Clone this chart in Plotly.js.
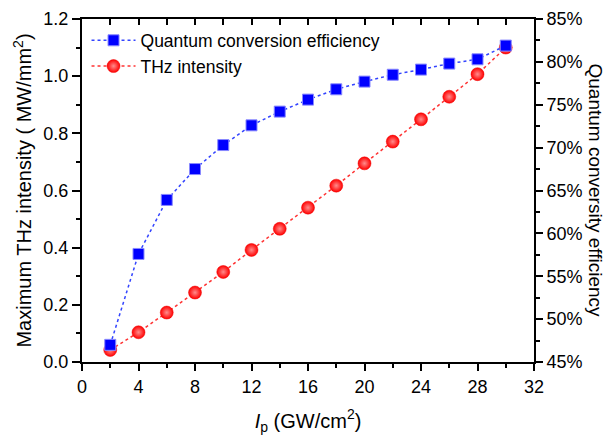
<!DOCTYPE html>
<html>
<head>
<meta charset="utf-8">
<script src="https://cdn.plot.ly/plotly-3.0.1.min.js"></script>
<style>html,body{margin:0;padding:0;background:#fff;}#chart{width:611px;height:439px;}</style>
</head>
<body>
<div id="chart"></div>
<script>
// Pump intensity Ip (GW/cm^2)
const intensity = [2, 4, 6, 8, 10, 12, 14, 16, 18, 20, 22, 24, 26, 28, 30];
// Quantum conversion efficiency (%)
const efficiency = [47.0, 57.6, 63.9, 67.5, 70.3, 72.6, 74.2, 75.6, 76.8, 77.7, 78.5, 79.1, 79.8, 80.3, 81.9];
// Maximum THz intensity (MW/mm^2)
const thz = [0.042, 0.104, 0.173, 0.243, 0.315, 0.392, 0.466, 0.540, 0.617, 0.695, 0.771, 0.849, 0.928, 1.007, 1.100];

const FONT = 'Liberation Sans, Arial, sans-serif';

const traces = [
  {
    x: intensity, y: efficiency, yaxis: 'y2', xaxis: 'x',
    name: 'Quantum conversion efficiency',
    mode: 'lines+markers',
    line: {color: '#3344ff', width: 1.5, dash: 'dot'},
    marker: {symbol: 'square', size: 11, color: '#0000ff', line: {color: '#8888ff', width: 1}}
  },
  {
    x: intensity, y: thz, yaxis: 'y', xaxis: 'x',
    name: 'THz intensity',
    mode: 'lines+markers',
    line: {color: '#ff3333', width: 1.5, dash: 'dot'},
    marker: {symbol: 'circle', size: 13, color: '#ff0000', line: {color: '#ee0000', width: 0.5},
             gradient: {type: 'radial', color: '#ff8c8c'}}
  }
];

const axisCommon = {
  showline: true, linecolor: '#000', linewidth: 2,
  ticks: 'outside', tickcolor: '#000', tickwidth: 2,
  showgrid: false, zeroline: false,
  tickfont: {family: FONT, size: 18, color: '#000'}
};

const layout = {
  width: 611, height: 439,
  margin: {l: 82, r: 77, t: 19, b: 77},
  paper_bgcolor: '#fff', plot_bgcolor: '#fff',
  font: {family: FONT, color: '#000'},
  showlegend: true,
  legend: {x: 0.01, y: 0.99, xanchor: 'left', yanchor: 'top', bgcolor: 'rgba(0,0,0,0)',
           font: {family: FONT, size: 17.5, color: '#000'}, tracegroupgap: 0, itemwidth: 44},
  xaxis: Object.assign({}, axisCommon, {
    range: [0, 32], dtick: 4, tick0: 0, ticklen: 7,
    minor: {dtick: 2, ticklen: 4, ticks: 'outside', tickcolor: '#000', tickwidth: 2},
    title: {text: '<i>I</i><sub>p</sub> (GW/cm<sup>2</sup>)', font: {family: FONT, size: 20, color: '#000'}, standoff: 18}
  }),
  xaxis2: {
    overlaying: 'x', side: 'top', range: [0, 32], dtick: 2, tick0: 0,
    showline: true, linecolor: '#000', linewidth: 2,
    ticks: 'inside', ticklen: 6, tickwidth: 2, tickcolor: '#000',
    showticklabels: false, showgrid: false, zeroline: false
  },
  yaxis: Object.assign({}, axisCommon, {
    range: [0, 1.2], dtick: 0.2, tick0: 0, ticklen: 8, tickformat: '.1f',
    minor: {dtick: 0.1, ticklen: 4, ticks: 'outside', tickcolor: '#000', tickwidth: 2},
    title: {text: 'Maximum THz intensity ( MW/mm<sup>2</sup>)', font: {family: FONT, size: 20, color: '#000'}, standoff: 6}
  }),
  yaxis2: Object.assign({}, axisCommon, {
    overlaying: 'y', side: 'right', anchor: 'x',
    range: [45, 85], dtick: 5, tick0: 45, ticklen: 7, ticksuffix: '%',
    minor: {dtick: 2.5, ticklen: 4, ticks: 'outside', tickcolor: '#000', tickwidth: 2}
  }),
  annotations: [{
    text: 'Quantum conversity efficiency', textangle: 90,
    xref: 'paper', yref: 'paper', x: 1.135, y: 0.5, xanchor: 'center', yanchor: 'middle',
    showarrow: false, font: {family: FONT, size: 19, color: '#000'}
  }]
};

// invisible trace to activate the top axis
traces.push({x: [0, 32], y: [0, 0], xaxis: 'x2', yaxis: 'y', mode: 'markers', marker: {opacity: 0}, showlegend: false, hoverinfo: 'skip'});

Plotly.newPlot('chart', traces, layout, {staticPlot: true, displayModeBar: false});
</script>
</body>
</html>
